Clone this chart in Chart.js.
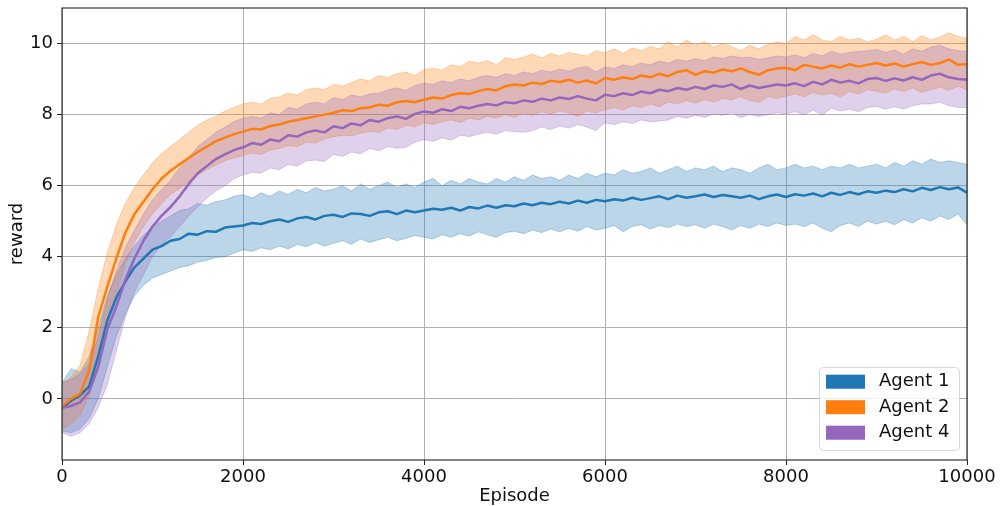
<!DOCTYPE html>
<html>
<head>
<meta charset="utf-8">
<title>reward per episode</title>
<script src="https://cdn.jsdelivr.net/npm/chart.js@4.4.0/dist/chart.umd.min.js"></script>
<style>
  body { margin: 0; background: #fff; }
  #wrap { width: 1000px; height: 506px; }
</style>
</head>
<body>
<div id="wrap"><canvas id="myChart" width="1000" height="506"></canvas></div>
<script>
// episode grid (every 100 episodes)
const episodes = [
  0, 100, 200, 300, 400, 500, 600, 700, 800, 900, 1000,
  1100, 1200, 1300, 1400, 1500, 1600, 1700, 1800, 1900, 2000,
  2100, 2200, 2300, 2400, 2500, 2600, 2700, 2800, 2900, 3000,
  3100, 3200, 3300, 3400, 3500, 3600, 3700, 3800, 3900, 4000,
  4100, 4200, 4300, 4400, 4500, 4600, 4700, 4800, 4900, 5000,
  5100, 5200, 5300, 5400, 5500, 5600, 5700, 5800, 5900, 6000,
  6100, 6200, 6300, 6400, 6500, 6600, 6700, 6800, 6900, 7000,
  7100, 7200, 7300, 7400, 7500, 7600, 7700, 7800, 7900, 8000,
  8100, 8200, 8300, 8400, 8500, 8600, 8700, 8800, 8900, 9000,
  9100, 9200, 9300, 9400, 9500, 9600, 9700, 9800, 9900, 10000
];

const agent1Mean = [
  -0.25, -0.05, 0.1, 0.35, 1.2, 2.2, 2.85, 3.3, 3.7, 3.95, 4.2,
  4.3, 4.45, 4.5, 4.65, 4.62, 4.72, 4.7, 4.82, 4.85, 4.88,
  4.95, 4.92, 5.0, 5.05, 4.98, 5.08, 5.12, 5.05, 5.15, 5.18,
  5.12, 5.22, 5.2, 5.15, 5.25, 5.28, 5.2, 5.3, 5.25, 5.3,
  5.35, 5.32, 5.38, 5.3, 5.4, 5.36, 5.44, 5.38, 5.45, 5.42,
  5.5, 5.45, 5.52, 5.48, 5.55, 5.5, 5.58, 5.52, 5.6, 5.56,
  5.62, 5.58, 5.66, 5.6, 5.65, 5.7, 5.62, 5.72, 5.66, 5.7,
  5.75, 5.68, 5.74, 5.7, 5.66, 5.72, 5.62, 5.7, 5.75, 5.68,
  5.76, 5.72, 5.78, 5.7, 5.8, 5.74, 5.82, 5.76, 5.84, 5.8,
  5.86, 5.82, 5.9, 5.84, 5.94, 5.88, 5.96, 5.9, 5.95, 5.8
];
const agent1Hi = [
  0.45, 0.85, 0.75, 1.2, 2.0, 2.9, 3.5, 3.95, 4.3, 4.6, 4.85,
  5.0, 5.15, 5.3, 5.35, 5.5, 5.45, 5.55, 5.6, 5.7, 5.75,
  5.65, 5.8, 5.7, 5.85, 5.75, 5.9, 5.8, 5.95, 5.85, 5.9,
  6.0, 5.85, 6.05, 5.9, 6.0, 6.1, 5.95, 6.05, 5.95, 6.1,
  6.2, 6.0, 6.15, 6.05, 6.2, 6.1, 6.05, 6.2, 6.1, 6.25,
  6.15, 6.3, 6.2, 6.25, 6.15, 6.3, 6.2, 6.35, 6.25, 6.35,
  6.3, 6.45, 6.35, 6.4, 6.5, 6.35, 6.45, 6.55, 6.4, 6.5,
  6.45, 6.55, 6.4, 6.5, 6.45, 6.35, 6.5, 6.6, 6.45, 6.5,
  6.6, 6.5, 6.55, 6.45, 6.55, 6.5, 6.6, 6.5, 6.55, 6.6,
  6.5, 6.65, 6.55, 6.7, 6.6, 6.75, 6.65, 6.7, 6.65, 6.6
];
const agent1Lo = [
  -0.9, -0.95, -0.85, -0.55, 0.0, 0.9, 1.75, 2.4, 2.9, 3.2, 3.4,
  3.5, 3.6, 3.7, 3.75, 3.85, 3.9, 3.98, 4.0, 4.1, 4.2,
  4.15, 4.25, 4.2, 4.3, 4.22, 4.35, 4.28, 4.4, 4.3, 4.38,
  4.45, 4.35, 4.5, 4.4, 4.48, 4.55, 4.45, 4.52, 4.6, 4.55,
  4.5, 4.62, 4.55, 4.65, 4.58, 4.7, 4.62, 4.55, 4.68, 4.72,
  4.65, 4.75, 4.68, 4.78, 4.7, 4.8, 4.72, 4.85, 4.75, 4.8,
  4.88, 4.7, 4.85, 4.9, 4.78, 4.88, 4.82, 4.92, 4.85, 4.9,
  4.8, 4.92, 4.85, 4.75, 4.88, 4.8, 4.92, 4.85, 4.95, 4.88,
  4.92, 4.85, 4.95, 4.8, 4.7, 4.88, 4.95, 4.85, 5.0, 4.92,
  5.0, 4.9, 5.05, 4.95, 5.1, 5.0, 5.15, 5.05, 5.2, 4.9
];

const agent2Mean = [
  -0.2, 0.0, 0.15, 0.8, 2.3, 3.15, 3.95, 4.68, 5.2, 5.55, 5.9,
  6.2, 6.42, 6.6, 6.78, 6.95, 7.1, 7.25, 7.35, 7.45, 7.52,
  7.6, 7.58, 7.68, 7.72, 7.8, 7.85, 7.9, 7.95, 8.0, 8.05,
  8.12, 8.1, 8.18, 8.2, 8.28, 8.25, 8.35, 8.38, 8.35, 8.42,
  8.48, 8.45, 8.55, 8.6, 8.58, 8.66, 8.72, 8.68, 8.8, 8.85,
  8.82, 8.9, 8.86, 8.95, 8.92, 8.98, 8.9, 8.96, 8.88, 9.03,
  8.98, 9.05, 9.0, 9.1, 9.05, 9.15, 9.08, 9.2, 9.25, 9.12,
  9.22, 9.18, 9.27, 9.22, 9.3, 9.2, 9.12, 9.25, 9.3, 9.32,
  9.25, 9.4, 9.35, 9.3, 9.38, 9.32, 9.42, 9.35, 9.4, 9.45,
  9.38, 9.44, 9.35, 9.42, 9.48, 9.4, 9.45, 9.55, 9.4, 9.42
];
const agent2Hi = [
  0.45, 0.6, 0.95, 1.9, 3.1, 4.1, 4.9, 5.5, 5.95, 6.3, 6.65,
  6.9, 7.1, 7.3, 7.5, 7.7, 7.85, 7.95, 8.1, 8.2, 8.3,
  8.35, 8.3, 8.45, 8.5, 8.6, 8.55, 8.7, 8.75, 8.7, 8.85,
  8.8, 8.9, 9.0, 8.95, 9.1, 9.05, 9.15, 9.2, 9.1, 9.27,
  9.3, 9.25, 9.4, 9.35, 9.5, 9.45, 9.52, 9.4, 9.6, 9.55,
  9.62, 9.7, 9.6, 9.72, 9.65, 9.75, 9.7, 9.65, 9.8, 9.74,
  9.85, 9.72, 9.88, 9.8, 9.92, 9.85, 10.05, 9.9, 10.1, 9.95,
  10.05, 9.9, 10.0, 9.92, 9.8, 9.95, 9.85, 9.98, 10.05, 10.0,
  10.2, 10.1, 10.25, 10.1, 10.05, 10.2, 10.1, 10.15, 10.05, 10.12,
  10.25, 10.1, 10.2, 10.05, 10.22, 10.1, 10.18, 10.3, 10.2, 10.15
];
const agent2Lo = [
  -0.85, -0.7, -0.45, 0.1, 1.1, 2.1, 2.95, 3.8, 4.4, 4.85, 5.2,
  5.5, 5.75, 5.92, 6.12, 6.3, 6.45, 6.58, 6.7, 6.78, 6.85,
  6.92, 6.88, 7.0, 7.05, 7.12, 7.1, 7.22, 7.2, 7.32, 7.38,
  7.42, 7.4, 7.48, 7.52, 7.5, 7.62, 7.58, 7.7, 7.66, 7.77,
  7.72, 7.8, 7.85, 7.78, 7.9, 7.85, 7.95, 7.9, 8.0, 7.92,
  8.05, 7.98, 8.08, 8.02, 8.1, 8.05, 7.95, 8.1, 8.05, 8.14,
  8.2, 8.12, 8.25, 8.2, 8.3, 8.22, 8.35, 8.3, 8.4, 8.32,
  8.42, 8.35, 8.45, 8.42, 8.5, 8.4, 8.35, 8.5, 8.45, 8.52,
  8.58, 8.5, 8.62, 8.55, 8.6, 8.5, 8.65, 8.58, 8.7, 8.66,
  8.6, 8.72, 8.65, 8.75, 8.62, 8.7, 8.78, 8.68, 8.8, 8.7
];

const agent4Mean = [
  -0.25, -0.2, -0.1, 0.2, 0.9, 1.95, 2.6, 3.35, 3.95, 4.45, 4.85,
  5.15, 5.4, 5.7, 6.05, 6.35, 6.55, 6.75, 6.88, 7.0, 7.08,
  7.2, 7.15, 7.3, 7.25, 7.42, 7.38, 7.5, 7.55, 7.5, 7.67,
  7.62, 7.75, 7.7, 7.85, 7.8, 7.9, 7.95, 7.88, 8.02, 8.09,
  8.05, 8.15, 8.1, 8.22, 8.18, 8.25, 8.3, 8.26, 8.35, 8.32,
  8.4, 8.36, 8.45, 8.4, 8.48, 8.44, 8.52, 8.45, 8.4, 8.56,
  8.52, 8.6, 8.55, 8.65, 8.6, 8.7, 8.66, 8.75, 8.7, 8.78,
  8.72, 8.82, 8.78, 8.85, 8.72, 8.82, 8.75, 8.8, 8.85, 8.82,
  8.88, 8.8, 8.92, 8.85, 8.98, 8.9, 8.95, 8.88, 9.0, 9.03,
  8.95, 9.02, 8.96, 9.05, 8.98, 9.1, 9.15, 9.05, 9.0, 8.98
];
const agent4Hi = [
  0.45, 0.55, 0.7, 1.0, 1.75, 2.8, 3.6, 4.25, 4.75, 5.2, 5.6,
  5.9, 6.15, 6.5, 6.8, 7.1, 7.3, 7.5, 7.65, 7.8, 7.9,
  7.95, 7.9, 8.05, 8.0, 8.2, 8.15, 8.3, 8.35, 8.3, 8.48,
  8.42, 8.55, 8.5, 8.58, 8.6, 8.7, 8.75, 8.68, 8.82, 8.88,
  8.85, 8.95, 8.9, 9.0, 8.95, 9.05, 9.1, 9.05, 9.15, 9.1,
  9.2, 9.15, 9.25, 9.2, 9.28, 9.22, 9.32, 9.35, 9.2, 9.35,
  9.3, 9.4, 9.35, 9.45, 9.4, 9.5, 9.45, 9.55, 9.5, 9.58,
  9.52, 9.62, 9.58, 9.65, 9.6, 9.62, 9.55, 9.6, 9.65, 9.62,
  9.68, 9.6, 9.72, 9.65, 9.78, 9.7, 9.75, 9.78, 9.8, 9.83,
  9.75, 9.82, 9.7, 9.85, 9.78, 9.9, 9.95, 9.85, 9.8, 9.78
];
const agent4Lo = [
  -0.95, -1.05, -0.95, -0.7, -0.25, 0.4, 1.35, 2.3, 3.0, 3.5, 4.0,
  4.35, 4.55, 4.85, 5.15, 5.4, 5.65, 5.85, 6.0, 6.2, 6.3,
  6.38, 6.35, 6.5, 6.45, 6.6, 6.55, 6.7, 6.72, 6.68, 6.88,
  6.82, 6.95, 6.9, 7.05, 6.98, 7.1, 7.05, 7.08, 7.22, 7.3,
  7.25, 7.35, 7.28, 7.42, 7.38, 7.45, 7.5, 7.45, 7.55, 7.52,
  7.5, 7.55, 7.65, 7.58, 7.68, 7.62, 7.72, 7.65, 7.55, 7.77,
  7.72, 7.8, 7.75, 7.85, 7.8, 7.82, 7.85, 7.95, 7.9, 7.98,
  7.92, 8.02, 7.98, 8.05, 7.92, 8.0, 7.95, 8.0, 8.05, 8.02,
  8.08, 8.0, 8.12, 7.98, 8.18, 8.1, 8.15, 8.08, 8.2, 8.23,
  8.15, 8.22, 8.16, 8.25, 8.3, 8.3, 8.35, 8.25, 8.2, 8.2
];

const agentNames = ['Agent 1', 'Agent 2', 'Agent 4'];
const agentColors = ['#1f77b4', '#ff7f0e', '#9467bd'];
const xTicks = [0, 2000, 4000, 6000, 8000, 10000];
const yTicks = [0, 2, 4, 6, 8, 10];

function pts(ys) {
  return episodes.map((e, i) => ({ x: e, y: ys[i] }));
}

function fade(hex, a) {
  const n = parseInt(hex.slice(1), 16);
  return 'rgba(' + (n >> 16) + ',' + ((n >> 8) & 255) + ',' + (n & 255) + ',' + a + ')';
}

const bands = [[agent1Lo, agent1Hi], [agent2Lo, agent2Hi], [agent4Lo, agent4Hi]];
const means = [agent1Mean, agent2Mean, agent4Mean];

const datasets = [];
bands.forEach((b, k) => {
  datasets.push({
    data: pts(b[0]), borderColor: fade(agentColors[k], 0.3), borderWidth: 1,
    fill: false, order: 6 - k
  });
  datasets.push({
    data: pts(b[1]), borderColor: fade(agentColors[k], 0.3), borderWidth: 1,
    backgroundColor: fade(agentColors[k], 0.3), fill: '-1', order: 6 - k
  });
});
means.forEach((m, k) => {
  datasets.push({
    label: agentNames[k], data: pts(m), borderColor: agentColors[k],
    borderWidth: 2.5, fill: false, order: 3 - k
  });
});

// matplotlib-like frame around the plot
const frame = {
  id: 'frame',
  afterDatasetsDraw(chart) {
    const { ctx, chartArea: a } = chart;
    ctx.save();
    ctx.strokeStyle = '#222';
    ctx.lineWidth = 1.1;
    ctx.strokeRect(a.left, a.top, a.right - a.left, a.bottom - a.top);
    ctx.restore();
  }
};

// legend box inside lower right corner
const boxLegend = {
  id: 'boxLegend',
  afterDraw(chart) {
    const { ctx, chartArea: a } = chart;
    const w = 140, h = 83;
    const x = a.right - 8 - w, y = a.bottom - 10 - h;
    ctx.save();
    ctx.beginPath();
    ctx.roundRect(x + 0.5, y + 0.5, w, h, 4);
    ctx.fillStyle = 'rgba(255,255,255,0.8)';
    ctx.fill();
    ctx.strokeStyle = 'rgba(204,204,204,0.8)';
    ctx.lineWidth = 1;
    ctx.stroke();
    ctx.font = '18px "DejaVu Sans"';
    ctx.textBaseline = 'middle';
    agentNames.forEach((t, k) => {
      const cy = y + 14.7 + k * 25.5;
      ctx.fillStyle = agentColors[k];
      ctx.fillRect(x + 7, cy - 7, 39, 14);
      ctx.fillStyle = '#111';
      ctx.fillText(t, x + 60, cy);
    });
    ctx.restore();
  }
};

Chart.defaults.font.family = '"DejaVu Sans", sans-serif';
Chart.defaults.font.size = 18;
Chart.defaults.color = '#111';

const ctx = document.getElementById('myChart').getContext('2d');
const myChart = new Chart(ctx, {
  type: 'line',
  data: { datasets: datasets },
  options: {
    responsive: false,
    animation: false,
    devicePixelRatio: 1,
    layout: { padding: { left: 0, right: 33, top: 8, bottom: 0 } },
    elements: {
      point: { radius: 0, hoverRadius: 0 },
      line: { tension: 0, borderJoinStyle: 'round' }
    },
    plugins: {
      legend: { display: false },
      tooltip: { enabled: false }
    },
    scales: {
      x: {
        type: 'linear', min: 0, max: 10000,
        afterBuildTicks: s => { s.ticks = xTicks.map(v => ({ value: v })); },
        afterFit: s => { s.height = 46; s.paddingLeft = 0; s.paddingRight = 0; },
        grid: { color: '#b0b0b0', lineWidth: 1, tickLength: 5, tickColor: '#222' },
        border: { display: false },
        ticks: { padding: 2, maxRotation: 0, autoSkip: false, callback: v => String(v) },
        title: { display: true, text: 'Episode', font: { size: 18, lineHeight: 1 }, padding: { top: 0, bottom: 1 } }
      },
      y: {
        min: -1.72, max: 11,
        afterBuildTicks: s => { s.ticks = yTicks.map(v => ({ value: v })); },
        afterFit: s => { s.width = 62; s.paddingTop = 0; s.paddingBottom = 0; },
        grid: { color: '#b0b0b0', lineWidth: 1, tickLength: 5, tickColor: '#222' },
        border: { display: false },
        ticks: { padding: 4, autoSkip: false, callback: v => String(v) },
        title: { display: true, text: 'reward', font: { size: 18, lineHeight: 1 }, padding: { top: 8, bottom: 0 } }
      }
    }
  },
  plugins: [frame, boxLegend]
});
</script>
</body>
</html>
